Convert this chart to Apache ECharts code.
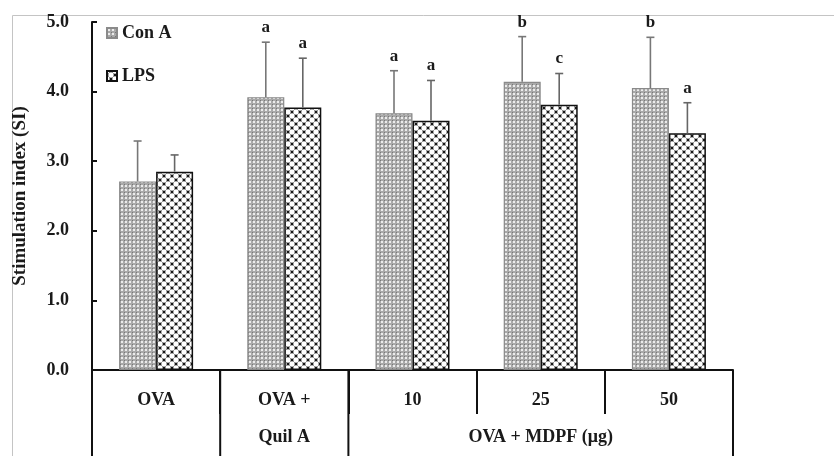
<!DOCTYPE html>
<html><head><meta charset="utf-8">
<script src="https://cdn.jsdelivr.net/npm/echarts@6/dist/echarts.min.js"></script>
<style>html,body{margin:0;padding:0;background:#fff}#c{width:834px;height:456px}</style>
</head><body><div id="c"></div>
<script>
const categories = ['OVA', 'OVA +', '10', '25', '50'];
const subLabels = ['', 'Quil A', '', 'OVA + MDPF (μg)', ''];
const seriesNames = ['Con A', 'LPS'];
const conA = [2.71, 3.92, 3.69, 4.14, 4.05];
const conASD = [0.58, 0.79, 0.61, 0.65, 0.73];
const conALetters = ['', 'a', 'a', 'b', 'b'];
const lps = [2.85, 3.77, 3.58, 3.81, 3.40];
const lpsSD = [0.24, 0.71, 0.58, 0.45, 0.44];
const lpsLetters = ['', 'a', 'a', 'c', 'a'];
const yTicks = [0, 1, 2, 3, 4, 5];

const FONT = "'Liberation Serif', 'Times New Roman', serif";
const BAR_W = 37;

function dotPattern() {
  const c = document.createElement('canvas'); c.width = 4; c.height = 4;
  const g = c.getContext('2d');
  g.fillStyle = '#a9a9a9'; g.fillRect(0, 0, 4, 4);
  g.fillStyle = '#ececec'; g.fillRect(1, 1, 2, 2);
  g.fillStyle = '#777'; g.fillRect(0, 0, 1, 1);
  return c;
}
function crossPattern() {
  const c = document.createElement('canvas'); c.width = 8; c.height = 8;
  const g = c.getContext('2d');
  g.fillStyle = '#161616'; g.fillRect(0, 0, 8, 8);
  g.fillStyle = '#fff';
  [[0,0],[8,0],[0,8],[8,8],[4,4]].forEach(p => { g.beginPath(); g.arc(p[0], p[1], 2.7, 0, Math.PI * 2); g.fill(); });
  return c;
}
const patA = { image: dotPattern(), repeat: 'repeat' };
const patL = { image: crossPattern(), repeat: 'repeat' };

function errSeries(means, sds, letters, offset, color) {
  return {
    type: 'custom',
    silent: true,
    z: 5,
    data: means.map((m, i) => [i, m, sds[i]]),
    encode: { x: 0, y: 1 },
    renderItem: function (params, api) {
      const i = api.value(0), m = api.value(1), sd = api.value(2);
      const base = api.coord([i, m]);
      const top = api.coord([i, m + sd]);
      const cx = base[0] + offset;
      const st = { stroke: color, lineWidth: 1.6 };
      return {
        type: 'group',
        children: [
          { type: 'line', shape: { x1: cx, y1: base[1], x2: cx, y2: top[1] }, style: st },
          { type: 'line', shape: { x1: cx - 4, y1: top[1], x2: cx + 4, y2: top[1] }, style: st },
          { type: 'text', style: { x: cx, y: top[1] - 6, text: letters[params.dataIndex], align: 'center', verticalAlign: 'bottom',
            font: "bold 17px " + FONT, fill: '#1a1a1a' } }
        ]
      };
    }
  };
}

const chart = echarts.init(document.getElementById('c'), null, { renderer: 'canvas' });
const option = {
  animation: false,
  backgroundColor: '#fff',
  textStyle: { fontFamily: FONT },
  legend: {
    orient: 'vertical', left: 101, top: 19, itemGap: 25, itemWidth: 10, itemHeight: 10,
    icon: 'rect',
    textStyle: { fontFamily: FONT, fontWeight: 'bold', fontSize: 18, color: '#1a1a1a', padding: [0, 0, 0, 0] },
    data: seriesNames
  },
  grid: { left: 92, right: 101, top: 22, bottom: 82, containLabel: false },
  xAxis: {
    type: 'category', data: categories,
    axisLine: { lineStyle: { color: '#111', width: 2 } },
    axisTick: { show: true, length: 44, lineStyle: { color: '#111', width: 2 } },
    axisLabel: {
      interval: 0, margin: 12, lineHeight: 37, fontFamily: FONT, fontWeight: 'bold', fontSize: 18, color: '#1a1a1a',
      formatter: (v, i) => subLabels[i] ? v + '\n' + subLabels[i] : v
    }
  },
  yAxis: {
    type: 'value', min: 0, max: 5, interval: 1,
    name: 'Stimulation index (SI)', nameLocation: 'middle', nameGap: 62,
    nameTextStyle: { fontFamily: FONT, fontWeight: 'bold', fontSize: 19, color: '#1a1a1a' },
    axisLine: { show: true, lineStyle: { color: '#111', width: 2 } },
    axisTick: { show: true, inside: true, length: 5, lineStyle: { color: '#111', width: 2 } },
    splitLine: { show: false },
    axisLabel: { margin: 23, fontFamily: FONT, fontWeight: 'bold', fontSize: 18, color: '#1a1a1a',
      formatter: v => yTicks.includes(v) ? v.toFixed(1) : '' }
  },
  series: [
    { name: seriesNames[0], type: 'bar', data: conA, barWidth: BAR_W, barGap: '0%',
      itemStyle: { color: patA, borderColor: '#8a8a8a', borderWidth: 1.2 } },
    { name: seriesNames[1], type: 'bar', data: lps, barWidth: BAR_W, barGap: '0%',
      itemStyle: { color: patL, borderColor: '#111', borderWidth: 1.5 } },
    errSeries(conA, conASD, conALetters, -BAR_W / 2, '#777'),
    errSeries(lps, lpsSD, lpsLetters, BAR_W / 2, '#666')
  ]
};
chart.setOption(option);

const x0 = chart.convertToPixel({ xAxisIndex: 0 }, 0);
const x1 = chart.convertToPixel({ xAxisIndex: 0 }, 1);
const band = x1 - x0;
const yZero = chart.convertToPixel({ yAxisIndex: 0 }, 0);
const H = 456;
const fullBoundaries = [0, 1, 2, 5];
const g = [];
fullBoundaries.forEach(b => {
  const x = x0 - band / 2 + b * band;
  g.push({ type: 'line', shape: { x1: x, y1: yZero, x2: x, y2: H }, style: { stroke: '#111', lineWidth: 2 }, z: 10 });
});
g.push({ type: 'line', shape: { x1: 12.5, y1: 15.5, x2: 834, y2: 15.5 }, style: { stroke: '#c4c4c4', lineWidth: 1 } });
g.push({ type: 'line', shape: { x1: 12.5, y1: 15.5, x2: 12.5, y2: H }, style: { stroke: '#c4c4c4', lineWidth: 1 } });
chart.setOption({ graphic: g });
</script></body></html>
